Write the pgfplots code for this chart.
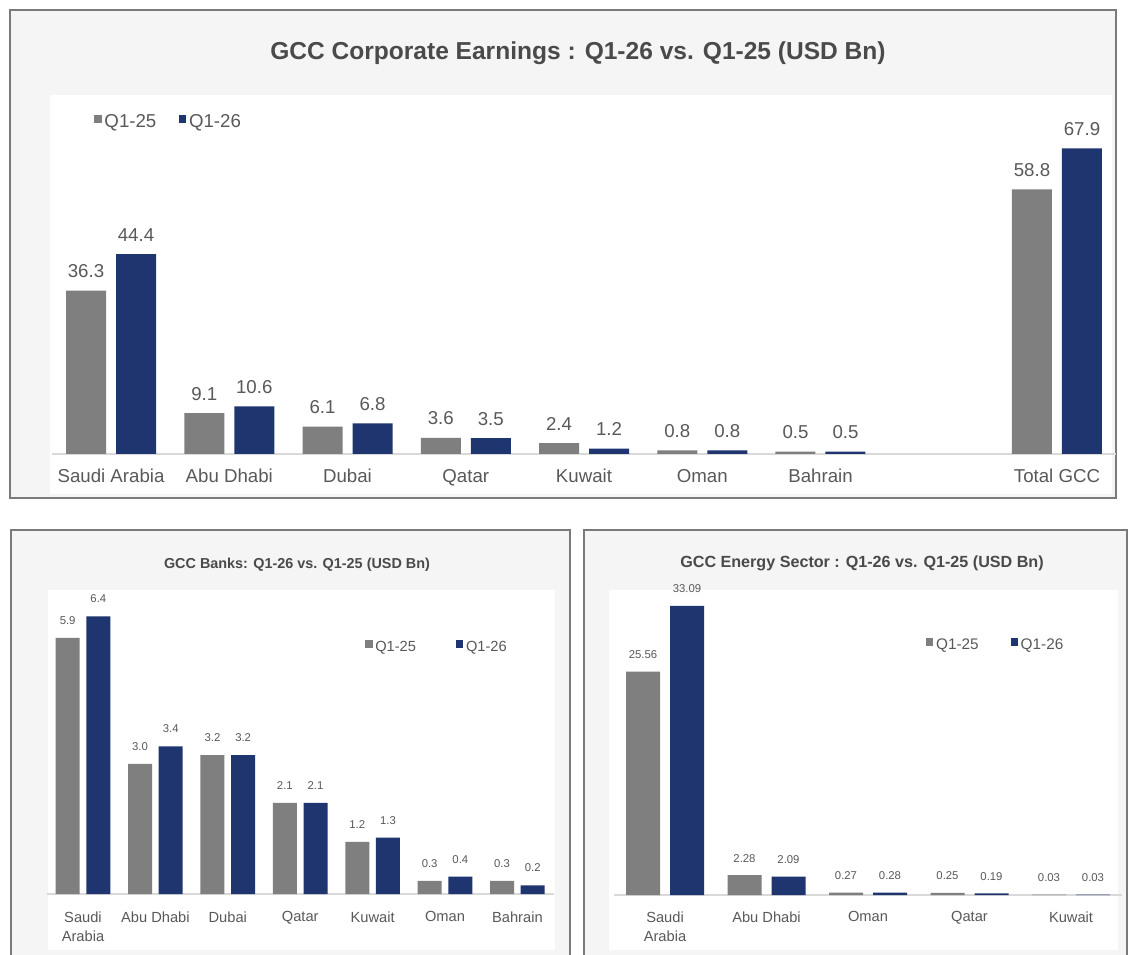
\documentclass[border=0pt]{standalone}
\usepackage{fontspec}
\setmainfont{Liberation Sans}
\usepackage{pgfplots}
\pgfplotsset{compat=1.18}

\definecolor{barg}{HTML}{7F7F7F}
\definecolor{barn}{HTML}{1F3570}
\definecolor{txt}{HTML}{595959}
\definecolor{ttl}{HTML}{4A4A4A}
\definecolor{panel}{HTML}{F5F5F5}
\definecolor{frame}{HTML}{7A7A7A}
\definecolor{base}{HTML}{D9D9D9}

\pgfplotsset{
  gcc/.style={
    scale only axis, enlargelimits=false, clip=false,
    axis x line*=bottom, axis y line=none,
    x axis line style={draw=base, line width=0.9pt},
    ymin=0, ytick=\empty, xtick style={draw=none}, major tick length=0pt,
    /pgf/number format/assume math mode=true,
    legend style={draw=none, fill=none, legend columns=2, text=txt, anchor=west},
    legend image code/.code={\fill[##1] (0pt,-0.05em) rectangle (0.55em,0.5em);},
  },
  % a bar series shifted sideways, its value label following it
  sbar/.style 2 args={ybar, fill=#1, draw=none, bar shift=#2,
    every node near coord/.append style={xshift=#2}},
}

\begin{document}
\begin{tikzpicture}
\useasboundingbox (0,0) rectangle (846pt,715.5pt);

% panels
\begin{scope}[x=0.75pt, y=-0.75pt, shift={(0pt,715.5pt)}]
  \fill[panel] (10,10) rectangle (1116,498);
  \fill[white] (50,95) rectangle (1112,494);
  \draw[frame, line width=0.9pt] (10,10) rectangle (1116,498);
  \fill[panel] (11,530) rectangle (570,960);
  \fill[white] (48,590) rectangle (555,950);
  \draw[frame, line width=0.9pt] (11,960) -- (11,530) -- (570,530) -- (570,960);
  \fill[panel] (584,530) rectangle (1127,960);
  \fill[white] (609,590) rectangle (1118,950);
  \draw[frame, line width=0.9pt] (584,960) -- (584,530) -- (1127,530) -- (1127,960);
  \node[font=\bfseries\fontsize{18.4}{20}\selectfont, text=ttl] at (578,53)
    {GCC Corporate Earnings : Q1-26 vs. Q1-25 (USD Bn)};
  \node[font=\bfseries\fontsize{10.8}{12}\selectfont, text=ttl] at (297,565)
    {GCC Banks: Q1-26 vs. Q1-25 (USD Bn)};
  \node[font=\bfseries\fontsize{12.1}{13}\selectfont, text=ttl] at (862,563)
    {GCC Energy Sector : Q1-26 vs. Q1-25 (USD Bn)};
\end{scope}

% GCC corporate earnings
\begin{axis}[gcc,
  at={(38.93pt,375pt)}, anchor=south west,
  width=798.15pt, height=270pt,
  xmin=-0.5, xmax=8.5, ymax=80,
  xtick={0,1,2,3,4,5,6,8},
  xticklabels={Saudi Arabia, Abu Dhabi, Dubai, Qatar, Kuwait, Oman, Bahrain, Total GCC},
  xticklabel style={font=\fontsize{14}{16}\selectfont, text=txt, yshift=-8pt},
  nodes near coords={\pgfmathprintnumber[fixed,zerofill,precision=1]{\pgfplotspointmeta}},
  nodes near coords style={font=\fontsize{14}{16}\selectfont, text=txt, yshift=6pt},
  bar width=30pt,
  legend style={at={(0.036,0.922)}, font=\fontsize{14}{16}\selectfont,
    /tikz/every even column/.append style={column sep=15pt}},
]
\addplot[sbar={barg}{-18.75pt}]
  coordinates {(0,36.3) (1,9.1) (2,6.1) (3,3.6) (4,2.4) (5,0.8) (6,0.5) (8,58.8)};
\addplot[sbar={barn}{18.75pt}]
  coordinates {(0,44.4) (1,10.6) (2,6.8) (3,3.5) (4,1.2) (5,0.8) (6,0.5) (8,67.9)};
\legend{Q1-25, Q1-26}
\end{axis}

% GCC banks
\begin{axis}[gcc,
  at={(35.1pt,45pt)}, anchor=south west,
  width=380.1pt, height=227.85pt,
  xmin=-0.5, xmax=6.5, ymax=7,
  xtick={0,...,6},
  xticklabels={Saudi\\Arabia, Abu Dhabi, Dubai, Qatar, Kuwait, Oman, Bahrain},
  xticklabel style={font=\fontsize{11}{14.5}\selectfont, text=txt, align=center, yshift=-9.5pt},
  nodes near coords={\pgfmathprintnumber[fixed,zerofill,precision=1]{\pgfplotspointmeta}},
  nodes near coords style={font=\fontsize{8.5}{10}\selectfont, text=txt, yshift=6.5pt},
  bar width=18pt,
  legend style={at={(0.62,0.813)}, font=\fontsize{11}{13}\selectfont,
    /tikz/every even column/.append style={column sep=28pt}},
]
\addplot[sbar={barg}{-11.5pt}]
  coordinates {(0,5.9) (1,3.0) (2,3.2) (3,2.1) (4,1.2) (5,0.3) (6,0.3)};
\addplot[sbar={barn}{11.5pt}]
  coordinates {(0,6.4) (1,3.4) (2,3.2) (3,2.1) (4,1.3) (5,0.4) (6,0.2)};
\legend{Q1-25, Q1-26}
\end{axis}

% GCC energy sector
\begin{axis}[gcc,
  at={(460.69pt,44.25pt)}, anchor=south west,
  width=380.63pt, height=229.43pt,
  xmin=-0.5, xmax=4.5, ymax=35,
  xtick={0,...,4},
  xticklabels={Saudi\\Arabia, Abu Dhabi, Oman, Qatar, Kuwait},
  xticklabel style={font=\fontsize{11}{14.5}\selectfont, text=txt, align=center, yshift=-9pt},
  nodes near coords={\pgfmathprintnumber[fixed,zerofill,precision=2]{\pgfplotspointmeta}},
  nodes near coords style={font=\fontsize{8.5}{10}\selectfont, text=txt, yshift=6pt},
  bar width=25.5pt,
  legend style={at={(0.606,0.817)}, font=\fontsize{11.5}{13}\selectfont,
    /tikz/every even column/.append style={column sep=22pt}},
]
\addplot[sbar={barg}{-16.5pt}]
  coordinates {(0,25.56) (1,2.28) (2,0.27) (3,0.25) (4,0.03)};
\addplot[sbar={barn}{16.5pt}]
  coordinates {(0,33.09) (1,2.09) (2,0.28) (3,0.19) (4,0.03)};
\legend{Q1-25, Q1-26}
\end{axis}
\end{tikzpicture}
\end{document}
